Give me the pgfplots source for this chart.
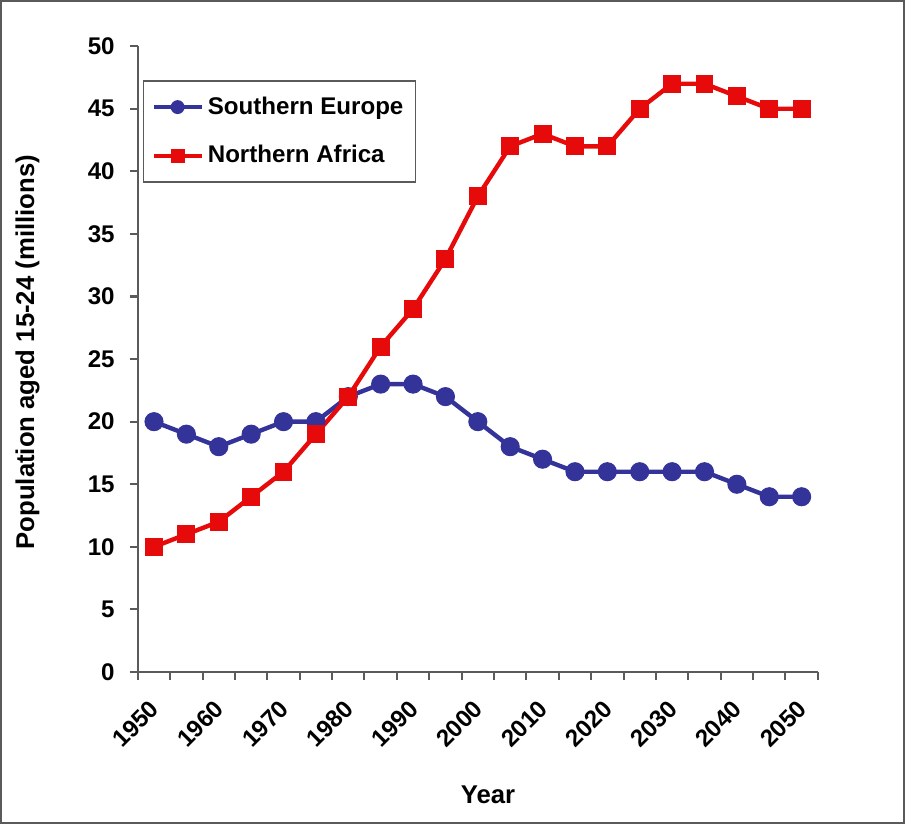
\documentclass[border=0pt]{standalone}
\usepackage{pgfplots}
\pgfplotsset{compat=1.18}
\usepackage{fontspec}
\setmainfont{Liberation Sans}

\definecolor{seblue}{RGB}{51,51,153}
\definecolor{nared}{RGB}{230,10,10}
\definecolor{axgray}{RGB}{90,90,90}

\begin{document}
\begin{tikzpicture}
\begin{axis}[
    name=ax,
    scale only axis,
    width=338.5pt, height=311.5pt,
    xmin=-0.5, xmax=20.5,
    ymin=0, ymax=50,
    axis x line*=bottom,
    axis y line*=left,
    axis line style={axgray, line width=1.2pt},
    tick style={axgray, line width=1pt},
    tick align=outside,
    major tick length=4pt,
    xtick={-0.5,0.5,...,20.5},
    xticklabels={},
    extra x ticks={0,2,...,20},
    extra x tick labels={1950,1960,1970,1980,1990,2000,2010,2020,2030,2040,2050},
    extra x tick style={major tick length=0pt,
        xticklabel style={xshift=2.8pt, yshift=-13.8pt, rotate=45, anchor=east,
        font=\bfseries\fontsize{12}{14}\selectfont}},
    ytick={0,5,...,50},
    yticklabel style={font=\bfseries\fontsize{12}{14}\selectfont, xshift=-4pt,
        /pgf/number format/assume math mode=true},
    xlabel={\bfseries Year},
    ylabel={\bfseries Population aged 15-24 (millions)},
    label style={font=\bfseries\fontsize{12.8}{15}\selectfont},
    xlabel style={at={(axis description cs:0.515,-0.1965)}, anchor=center},
    ylabel style={at={(axis description cs:-0.162,0.511)}, anchor=center},
    legend style={at={(0.007,0.946)}, anchor=north west, draw=axgray, line width=0.8pt,
        font=\bfseries\fontsize{12}{14}\selectfont, row sep=10pt,
        inner xsep=4pt, inner ysep=6pt},
    legend cell align=left,
    legend image code/.code={
        \draw[#1, mark size=3.2pt, mark repeat=2, mark phase=2]
            plot coordinates {(0cm,0cm) (0.42cm,0cm) (0.84cm,0cm)};},
    clip=false,
]
\addplot[seblue, line width=2.2pt, mark=*, mark size=4.5pt,
    mark options={solid, line width=0.5pt}]
coordinates {
(0,20) (1,19) (2,18) (3,19) (4,20) (5,20) (6,22) (7,23) (8,23) (9,22) (10,20)
(11,18) (12,17) (13,16) (14,16) (15,16) (16,16) (17,16) (18,15) (19,14) (20,14)
};
\addlegendentry{Southern Europe}
\addplot[nared, line width=2.2pt, mark=square*, mark size=4.2pt,
    mark options={solid, line width=0.5pt}]
coordinates {
(0,10) (1,11) (2,12) (3,14) (4,16) (5,19) (6,22) (7,26) (8,29) (9,33) (10,38)
(11,42) (12,43) (13,42) (14,42) (15,45) (16,47) (17,47) (18,46) (19,45) (20,45)
};
\addlegendentry{Northern Africa}
\end{axis}
\draw[axgray, line width=0.8pt] ([xshift=-68.2pt,yshift=-75.2pt]ax.south west)
    rectangle ([xshift=43pt,yshift=22.6pt]ax.north east);
\end{tikzpicture}
\end{document}
